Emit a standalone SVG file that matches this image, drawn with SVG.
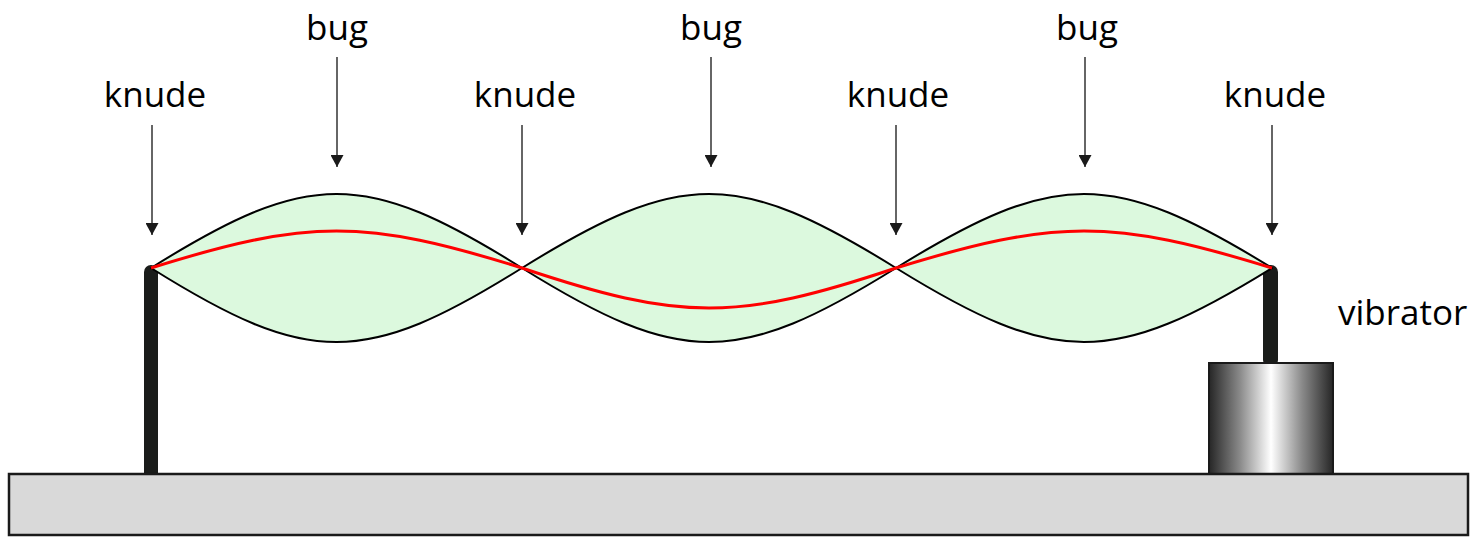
<svg xmlns="http://www.w3.org/2000/svg" width="1477" height="537" viewBox="0 0 1477 537">
  <style>
    .lbl { font-family: "Open Sans", "Liberation Sans", sans-serif; font-size: 35px; fill: #000; }
    .mid { text-anchor: middle; }
    .arrow { stroke: #333; stroke-width: 1.5; fill: none; marker-end: url(#head); }
    .env { fill: #dcf9de; stroke: #000; stroke-width: 2; stroke-linejoin: round; }
    .post { fill: #1a1c1a; }
  </style>
  <defs>
    <!-- solid triangular head, tip at the end of the line -->
    <marker id="head" markerUnits="userSpaceOnUse" markerWidth="13" markerHeight="13" refX="12" refY="6.5" orient="auto" viewBox="0 0 13 13">
      <path d="M0,0 L12,6.5 L0,13 Z" fill="#1a1a1a"/>
    </marker>
    <linearGradient id="metal" x1="0" y1="0" x2="1" y2="0">
      <stop offset="0" stop-color="#262626"/>
      <stop offset="0.25" stop-color="#8a8a8a"/>
      <stop offset="0.5" stop-color="#ffffff"/>
      <stop offset="0.75" stop-color="#8a8a8a"/>
      <stop offset="1" stop-color="#262626"/>
    </linearGradient>
  </defs>

  <!-- fixed post on the left -->
  <g id="post-left">
    <rect class="post" x="144" y="265" width="14" height="215" rx="7"/>
  </g>

  <!-- vibrator with its rod -->
  <g id="vibrator">
    <rect class="post" x="1263" y="265" width="15" height="102" rx="7"/>
    <rect x="1209" y="363" width="124" height="111" fill="url(#metal)" stroke="#1a1a1a" stroke-width="2"/>
    <text class="lbl" x="1338" y="325">vibrator</text>
  </g>

  <!-- base plate -->
  <g id="base">
    <rect x="9" y="474" width="1459" height="61" fill="#d9d9d9" stroke="#1a1a1a" stroke-width="2.5"/>
  </g>

  <!-- envelope of the standing wave: three loops -->
  <g id="loop-1">
    <path class="env" d="M151,268 C308.5,169.3 364.5,169.3 522,268 C364.5,366.7 308.5,366.7 151,268 Z"/>
  </g>
  <g id="loop-2">
    <path class="env" d="M522,268 C680.7,169.3 737.3,169.3 896,268 C737.3,366.7 680.7,366.7 522,268 Z"/>
  </g>
  <g id="loop-3">
    <path class="env" d="M896,268 C1055.6,169.3 1112.4,169.3 1272,268 C1112.4,366.7 1055.6,366.7 896,268 Z"/>
  </g>

  <!-- string at one instant -->
  <g id="string">
    <path d="M151,268 C308.5,218.7 364.5,218.7 522,268 C680.7,321.3 737.3,321.3 896,268 C1055.6,218.7 1112.4,218.7 1272,268" fill="none" stroke="#ff0000" stroke-width="3"/>
  </g>

  <!-- labels -->
  <g id="labels">
    <text class="lbl mid" x="337" y="40">bug</text>
    <text class="lbl mid" x="711" y="40">bug</text>
    <text class="lbl mid" x="1087" y="40">bug</text>
    <text class="lbl mid" x="155" y="107">knude</text>
    <text class="lbl mid" x="525" y="107">knude</text>
    <text class="lbl mid" x="898" y="107">knude</text>
    <text class="lbl mid" x="1275" y="107">knude</text>
  </g>

  <!-- pointer arrows -->
  <g id="connectors">
    <line class="arrow" x1="337" y1="57" x2="337" y2="167"/>
    <line class="arrow" x1="711" y1="57" x2="711" y2="167"/>
    <line class="arrow" x1="1085" y1="57" x2="1085" y2="167"/>
    <line class="arrow" x1="152" y1="125" x2="152" y2="235"/>
    <line class="arrow" x1="522" y1="125" x2="522" y2="235"/>
    <line class="arrow" x1="896" y1="125" x2="896" y2="235"/>
    <line class="arrow" x1="1272" y1="125" x2="1272" y2="235"/>
  </g>
</svg>
